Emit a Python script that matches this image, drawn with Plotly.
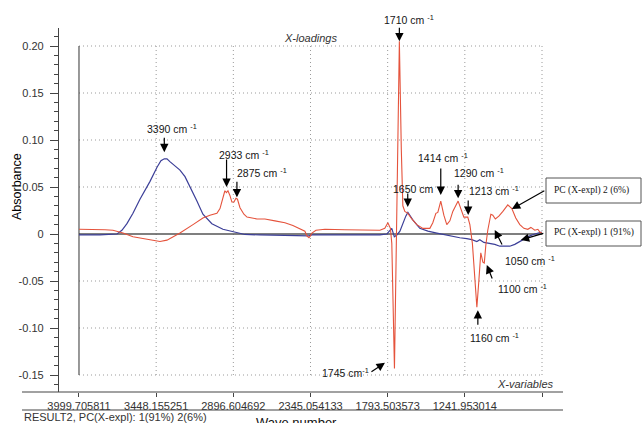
import plotly.graph_objects as go

# ---------------- data ----------------
x_tick_vals = [3999.705811, 3448.155251, 2896.604692, 2345.054133, 1793.503573, 1241.953014, 690.402454]
x_tick_text = ["3999.705811", "3448.155251", "2896.604692", "2345.054133", "1793.503573", "1241.953014", ""]
y_tick_vals = [0.20, 0.15, 0.10, 0.05, 0.0, -0.05, -0.10, -0.15]
y_tick_text = ["0.20", "0.15", "0.10", "0.05", "0", "-0.05", "-0.10", "-0.15"]

# PC (X-expl) 2 (6%)  -- red
pc2_wn = [3999.7, 3885, 3814, 3757, 3685, 3614, 3514, 3421, 3371, 3278, 3185, 3114, 3064, 3014,
          2992, 2971, 2957, 2946, 2935, 2921, 2907, 2892, 2878, 2867, 2849, 2821, 2799, 2728,
          2671, 2599, 2528, 2471, 2421, 2385, 2371, 2356, 2346, 2335, 2306, 2242, 2099, 1956,
          1849, 1814, 1792, 1774, 1764, 1745, 1710, 1696, 1685, 1671, 1649, 1621, 1585, 1542,
          1492, 1471, 1449, 1435, 1414, 1392, 1371, 1349, 1328, 1290, 1271, 1249, 1221, 1206,
          1188, 1174, 1156, 1142, 1128, 1113, 1103, 1092, 1078, 1056, 1042, 1024, 999, 970,
          935, 906, 878, 849, 820, 792, 770, 742, 720, 706, 692]
pc2_abs = [0.005, 0.005, 0.0045, 0.004, 0.001, -0.003, -0.006, -0.008, -0.0065, 0.001, 0.010, 0.017, 0.020, 0.022,
           0.027, 0.040, 0.046, 0.044, 0.046, 0.041, 0.034, 0.034, 0.038, 0.037, 0.028, 0.021, 0.018, 0.016,
           0.016, 0.014, 0.012, 0.009, 0.006, 0.003, -0.002, -0.004, -0.002, 0.001, 0.004, 0.005, 0.0045, 0.004,
           0.004, 0.006, 0.012, 0.006, -0.010, -0.143, 0.205, 0.090, 0.030, 0.024, 0.022, 0.016, 0.010, 0.006,
           0.006, 0.012, 0.022, 0.023, 0.035, 0.020, 0.010, 0.014, 0.024, 0.035, 0.026, 0.018, 0.018, 0.010,
           -0.010, -0.045, -0.078, -0.050, -0.020, -0.030, -0.031, -0.012, 0.004, 0.021, 0.020, 0.016, 0.019, 0.024,
           0.031, 0.027, 0.017, 0.010, 0.006, 0.005, 0.007, 0.004, 0.005, 0.002, 0.001]

# PC (X-expl) 1 (91%)  -- blue
pc1_wn = [3999.7, 3850, 3728, 3693, 3657, 3614, 3564, 3492, 3442, 3414, 3390, 3371, 3350, 3314,
          3278, 3242, 3207, 3157, 3114, 3078, 3050, 2971, 2871, 2814, 2707, 2421, 2356, 2335,
          2135, 1849, 1799, 1778, 1764, 1746, 1728, 1706, 1685, 1664, 1649, 1635, 1614, 1564,
          1506, 1442, 1385, 1328, 1278, 1228, 1192, 1156, 1135, 1106, 1063, 1028, 992, 956,
          921, 885, 849, 813, 778, 742, 706, 692]
pc1_abs = [-0.001, -0.001, 0.0, 0.004, 0.011, 0.022, 0.037, 0.056, 0.071, 0.078, 0.080, 0.080, 0.077, 0.073,
           0.068, 0.061, 0.051, 0.035, 0.021, 0.015, 0.011, 0.005, 0.001, -0.0005, -0.001, -0.0015, -0.002, -0.001,
           -0.001, -0.001, 0.0, 0.004, 0.006, -0.003, -0.001, 0.003, 0.012, 0.019, 0.023, 0.020, 0.015, 0.006,
           0.003, 0.001, -0.001, -0.003, -0.004, -0.005, -0.006, -0.008, -0.006, -0.009, -0.010, -0.011, -0.013, -0.013,
           -0.013, -0.011, -0.008, -0.005, -0.002, 0.0, 0.001, 0.002]

# peak labels: (text, wavenumber of arrow tip, absorbance of arrow tip)
peak_labels = [
    ("3390 cm <sup>-1</sup>", 3390, 0.087),
    ("2933 cm <sup>-1</sup>", 2945, 0.050),
    ("2875 cm <sup>-1</sup>", 2871, 0.039),
    ("1710 cm <sup>-1</sup>", 1710, 0.205),
    ("1650 cm", 1650, 0.0287),
    ("1414 cm <sup>-1</sup>", 1414, 0.0415),
    ("1290 cm <sup>-1</sup>", 1290, 0.038),
    ("1213 cm <sup>-1</sup>", 1218, 0.0202),
    ("1050 cm <sup>-1</sup>", 1028, 0.0043),
    ("1100 cm <sup>-1</sup>", 1085, -0.033),
    ("1160 cm <sup>-1</sup>", 1149, -0.081),
    ("1745 cm<sup>-1</sup>", 1813, -0.137),
]

# ---------------- layout helpers ----------------
WIDTH, HEIGHT = 642, 423
L, T, R, B = 59, 28, 79, 31
PW, PH = WIDTH - L - R, HEIGHT - T - B
X_RANGE = [4142.6, 540.4]
Y_RANGE = [-0.16809, 0.21915]


def px(x):
    return (x - L) / PW


def py(y):
    return (T + PH - y) / PH


RED = "#e5533c"
BLUE = "#3c3f98"
TXT = "#151515"
SANS = "Liberation Sans, Arial, sans-serif"
NARROW = "Liberation Sans Narrow, Arial Narrow, Liberation Sans, sans-serif"
SERIF = "Liberation Serif, Times New Roman, serif"

fig = go.Figure()
fig.add_trace(go.Scatter(x=pc1_wn, y=pc1_abs, mode="lines", line=dict(color=BLUE, width=1.2),
                         name="PC (X-expl) 1 (91%)", showlegend=False))
fig.add_trace(go.Scatter(x=pc2_wn, y=pc2_abs, mode="lines", line=dict(color=RED, width=1.1),
                         name="PC (X-expl) 2 (6%)", showlegend=False))

shapes = []
x_left, x_right = x_tick_vals[0], x_tick_vals[-1]
for yv in y_tick_vals:
    if yv == 0:
        continue
    shapes.append(dict(type="line", xref="x", yref="y", x0=x_left, x1=x_right, y0=yv, y1=yv,
                       line=dict(color="#9a9a9a", width=1, dash="1px,3px"), layer="below"))
for xv in x_tick_vals[1:]:
    shapes.append(dict(type="line", xref="x", yref="y", x0=xv, x1=xv, y0=-0.15, y1=0.20,
                       line=dict(color="#9a9a9a", width=1, dash="1px,3px"), layer="below"))
# zero line and left frame
shapes.append(dict(type="line", xref="x", yref="y", x0=x_left, x1=x_right, y0=0, y1=0,
                   line=dict(color="#555555", width=1.3), layer="below"))
shapes.append(dict(type="line", xref="x", yref="y", x0=x_left, x1=x_left, y0=-0.15, y1=0.20,
                   line=dict(color="#333333", width=1), layer="below"))
# bottom axis lines
shapes.append(dict(type="line", xref="paper", yref="paper", x0=px(22), x1=px(563), y0=py(392), y1=py(392),
                   line=dict(color="#444444", width=1.2)))
shapes.append(dict(type="line", xref="paper", yref="paper", x0=px(22), x1=px(563), y0=py(410), y1=py(410),
                   line=dict(color="#444444", width=1.2)))
# legend boxes
shapes.append(dict(type="rect", xref="paper", yref="paper", x0=px(546), x1=px(641), y0=py(203), y1=py(178),
                   line=dict(color="#555555", width=1), fillcolor="white"))
shapes.append(dict(type="rect", xref="paper", yref="paper", x0=px(546), x1=px(641), y0=py(246), y1=py(221),
                   line=dict(color="#555555", width=1), fillcolor="white"))

# text positions (left edge px, centre px) for each peak label
label_pos = [(145, 128), (217, 154), (235, 172), (382, 19), (391, 189), (416, 157), (452, 172),
             (467, 190), (503, 260), (496, 288), (468, 337), (320, 372)]
# arrow tail offsets (px) relative to the tip
arrow_off = [(0, -16), (0, -29), (0, -17), (0, -15), (0, -15), (0, -28), (0, -15),
             (0, -16), (8, 16), (6, 15), (0, 16), (-15, 10)]

annotations = []
for (text, wn, ab), (lx, ly), (ax, ay) in zip(peak_labels, label_pos, arrow_off):
    annotations.append(dict(text=text, xref="paper", yref="paper", x=px(lx), y=py(ly),
                            xanchor="left", yanchor="middle", showarrow=False,
                            font=dict(family=SANS, size=10.5, color=TXT)))
    annotations.append(dict(text="", xref="x", yref="y", x=wn, y=ab, ax=ax, ay=ay,
                            showarrow=True, arrowhead=2, arrowsize=1.4, arrowwidth=1.2,
                            arrowcolor="#000000"))

# legend box leaders
annotations.append(dict(text="", xref="x", yref="y", x=906, y=0.0266, ax=34, ay=-19,
                        showarrow=True, arrowhead=2, arrowsize=1.4, arrowwidth=1.2, arrowcolor="#000000"))
annotations.append(dict(text="", xref="x", yref="y", x=842, y=-0.0064, ax=24, ay=-7,
                        showarrow=True, arrowhead=2, arrowsize=1.4, arrowwidth=1.2, arrowcolor="#000000"))
annotations.append(dict(text="PC (X-expl) 2 (6%)", xref="paper", yref="paper", x=px(552), y=py(190.5),
                        xanchor="left", yanchor="middle", showarrow=False,
                        font=dict(family=SERIF, size=9.5, color=TXT)))
annotations.append(dict(text="PC (X-expl) 1 (91%)", xref="paper", yref="paper", x=px(552), y=py(232.5),
                        xanchor="left", yanchor="middle", showarrow=False,
                        font=dict(family=SERIF, size=9.5, color=TXT)))

# axis / panel texts
annotations.append(dict(text="Absorbance", xref="paper", yref="paper", x=px(17), y=py(187),
                        textangle=-90, showarrow=False, xanchor="center", yanchor="middle",
                        font=dict(family=SANS, size=12.5, color="#000000")))
annotations.append(dict(text="<i>X-loadings</i>", xref="paper", yref="paper", x=px(310), y=py(38),
                        showarrow=False, xanchor="center", yanchor="middle",
                        font=dict(family=NARROW, size=11, color="#333333")))
annotations.append(dict(text="<i>X-variables</i>", xref="paper", yref="paper", x=px(556), y=py(384),
                        showarrow=False, xanchor="right", yanchor="middle",
                        font=dict(family=NARROW, size=11, color="#333333")))
annotations.append(dict(text="RESULT2, PC(X-expl): 1(91%) 2(6%)", xref="paper", yref="paper",
                        x=px(22), y=py(417), showarrow=False, xanchor="left", yanchor="middle",
                        font=dict(family=NARROW, size=11, color="#333333")))
annotations.append(dict(text="Wave number", xref="paper", yref="paper", x=px(296), y=py(423),
                        showarrow=False, xanchor="center", yanchor="middle",
                        font=dict(family=SANS, size=13, color="#111111")))

fig.update_layout(
    width=WIDTH, height=HEIGHT, autosize=False,
    margin=dict(l=L, r=R, t=T, b=B, pad=0),
    paper_bgcolor="white", plot_bgcolor="white",
    showlegend=False,
    shapes=shapes, annotations=annotations,
    xaxis=dict(range=X_RANGE, tickmode="array", tickvals=x_tick_vals, ticktext=x_tick_text,
               ticks="outside", ticklen=4, tickcolor="#444444", showline=False, showgrid=False,
               zeroline=False, tickfont=dict(family=NARROW, size=11, color="#333333")),
    yaxis=dict(range=Y_RANGE, tickmode="array", tickvals=y_tick_vals, ticktext=y_tick_text,
               ticks="outside", ticklen=8, tickcolor="#444444", showline=True, linecolor="#444444",
               linewidth=1.2, showgrid=False, zeroline=False, ticklabelstandoff=4,
               tickfont=dict(family=NARROW, size=11, color="#333333"),
               minor=dict(tickmode="linear", tick0=0, dtick=0.01, ticks="outside", ticklen=4,
                          tickcolor="#444444", showgrid=False)),
)

fig.write_html("out.html", config={"displayModeBar": False},
               post_script="document.body.style.margin='0px';document.body.style.overflow='hidden';")
